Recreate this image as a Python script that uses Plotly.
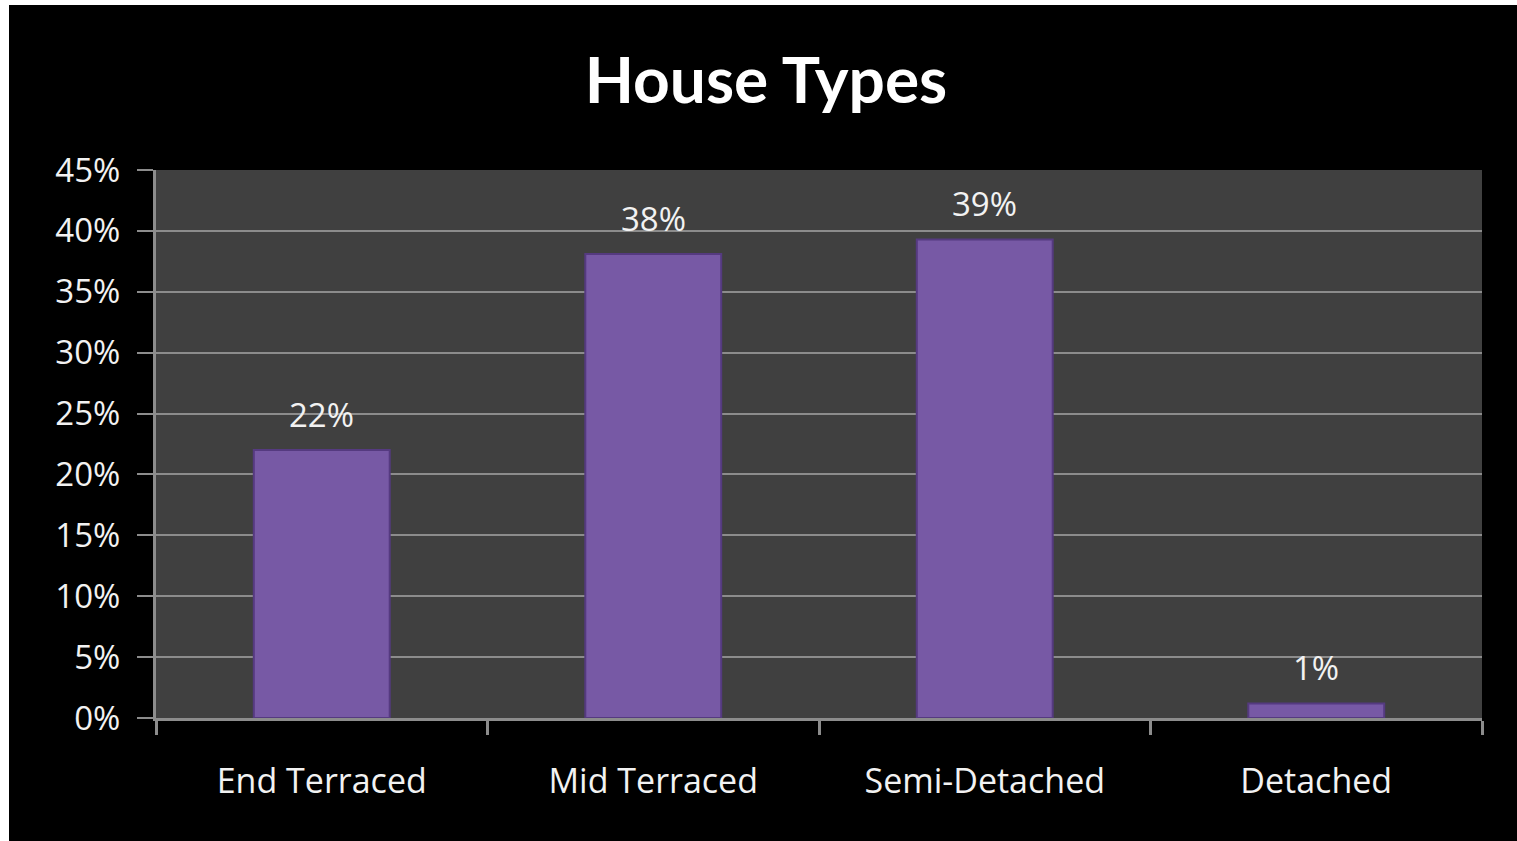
import plotly.graph_objects as go

categories = ["End Terraced", "Mid Terraced", "Semi-Detached", "Detached"]
shares = [0.22, 0.381, 0.393, 0.012]
tick_values = [0, 0.05, 0.10, 0.15, 0.20, 0.25, 0.30, 0.35, 0.40, 0.45]
tick_labels = ["0%", "5%", "10%", "15%", "20%", "25%", "30%", "35%", "40%", "45%"]

W, H = 1517, 841
L, R, T, B = 156, 35, 170, 123
pw, ph = W - L - R, H - T - B

FONT = "'Open Sans', 'Noto Sans', sans-serif"
TITLE_FONT = "Lato, 'Open Sans', sans-serif"

fig = go.Figure()
fig.add_trace(go.Bar(
    x=categories, y=shares,
    marker=dict(color="#7759a5", line=dict(color="#553a80", width=2)),
    width=0.41,
    hoverinfo="x+y",
))

for c, v in zip(categories, shares):
    fig.add_annotation(x=c, y=v, xref="x", yref="y", text=f"{round(v*100)}%",
                       showarrow=False, yshift=36,
                       font=dict(family=FONT, size=33, color="#f2f2f2"))

# white strips on left and top edges of the picture
fig.add_shape(type="rect", xref="paper", yref="paper", layer="below",
              x0=-L/pw - 0.01, x1=(9-L)/pw, y0=-B/ph - 0.01, y1=(H-B)/ph + 0.01,
              fillcolor="white", line_width=0)
fig.add_shape(type="rect", xref="paper", yref="paper", layer="below",
              x0=-L/pw - 0.01, x1=(W-L)/pw + 0.01, y0=(H-B-5)/ph, y1=(H-B)/ph + 0.01,
              fillcolor="white", line_width=0)

fig.update_layout(
    width=W, height=H,
    margin=dict(l=L, r=R, t=T, b=B),
    paper_bgcolor="black", plot_bgcolor="#404040",
    showlegend=False,
    title=dict(text="<b>House Types</b>", x=766 / W, xanchor="center",
               y=1 - 81 / H, yanchor="middle", yref="container",
               font=dict(family=TITLE_FONT, size=64, color="white")),
    font=dict(family=FONT, color="#f2f2f2"),
)
fig.update_xaxes(
    type="category", showgrid=False, showline=True, linecolor="#8c8c8c", linewidth=3,
    ticks="outside", tickson="boundaries", ticklen=14, tickwidth=3, tickcolor="#8c8c8c",
    tickfont=dict(family=FONT, size=34, color="#f2f2f2"), ticklabelstandoff=31,
    range=[-0.5, 3.5],
)
fig.update_yaxes(
    range=[0, 0.45], tickvals=tick_values, ticktext=tick_labels,
    showgrid=True, gridcolor="#8c8c8c", gridwidth=2, zeroline=False,
    showline=True, linecolor="#8c8c8c", linewidth=3,
    ticks="outside", ticklen=16, tickwidth=2, tickcolor="#8c8c8c",
    tickfont=dict(family=FONT, size=33, color="#f2f2f2"), ticklabelstandoff=10,
)

fig.write_html("out.html", config={"displayModeBar": False},
               post_script="document.body.style.margin='0';")
